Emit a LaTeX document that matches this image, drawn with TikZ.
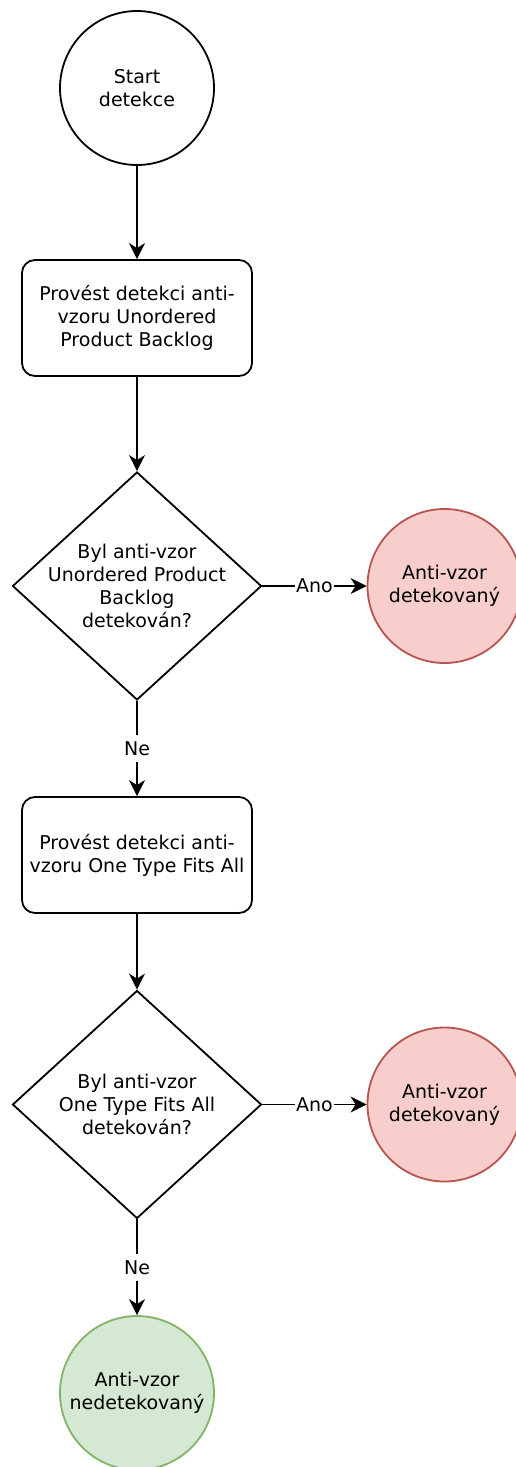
\documentclass[tikz,border=0pt]{standalone}
\usepackage{fontspec}
\setmainfont{DejaVu Sans}
\usetikzlibrary{shapes.geometric,arrows.meta}
\definecolor{redfill}{HTML}{F8CECC}
\definecolor{redline}{HTML}{B85450}
\definecolor{greenfill}{HTML}{D5E8D4}
\definecolor{greenline}{HTML}{82B366}
\begin{document}
\begin{tikzpicture}[x=1pt,y=-1pt,
  every node/.style={font=\fontsize{19}{23}\selectfont, align=center},
  base/.style={line width=1.8pt, inner sep=0pt},
  circ/.style={base, draw=black, fill=white, circle, minimum size=154pt},
  redcirc/.style={base, draw=redline, fill=redfill, circle, minimum size=154pt},
  greencirc/.style={base, draw=greenline, fill=greenfill, circle, minimum size=154pt},
  procbox/.style={base, draw=black, fill=white, rectangle, rounded corners=13pt, minimum width=230pt, minimum height=116pt},
  decision/.style={base, draw=black, fill=white, diamond, minimum width=249pt, minimum height=228pt},
  arr/.style={line width=1.8pt, -{Stealth[length=16pt,width=16pt,inset=5pt]}},
  lbl/.style={fill=white, inner xsep=1pt, inner ysep=0pt, minimum height=27pt}
]
\useasboundingbox (0,0) rectangle (515,1467);

\node[circ] (start) at (137,88) {Start\\detekce};
\node[procbox] (p1) at (137,318) {Provést detekci anti-\\vzoru Unordered\\Product Backlog};
\node[decision] (d1) at (137,586) {};
\node (d1t) at (137,586) {Byl anti-vzor\\Unordered Product\\Backlog\\detekován?};
\node[redcirc] (r1) at (444.5,586) {Anti-vzor\\detekovaný};
\node[procbox] (p2) at (137,855) {Provést detekci anti-\\vzoru One Type Fits All};
\node[decision] (d2) at (137,1104.5) {};
\node (d2t) at (137,1104.5) {Byl anti-vzor\\One Type Fits All\\detekován?};
\node[redcirc] (r2) at (444.5,1104.5) {Anti-vzor\\detekovaný};
\node[greencirc] (g) at (137,1393) {Anti-vzor\\nedetekovaný};

\draw[arr] (start.south) -- (p1.north);
\draw[arr] (p1.south) -- (d1.north);
\draw[arr] (d1.east) -- node[lbl] {Ano} (r1.west);
\draw[arr] (d1.south) -- node[lbl] {Ne} (p2.north);
\draw[arr] (p2.south) -- (d2.north);
\draw[arr] (d2.east) -- node[lbl] {Ano} (r2.west);
\draw[arr] (d2.south) -- node[lbl] {Ne} (g.north);
\end{tikzpicture}
\end{document}
